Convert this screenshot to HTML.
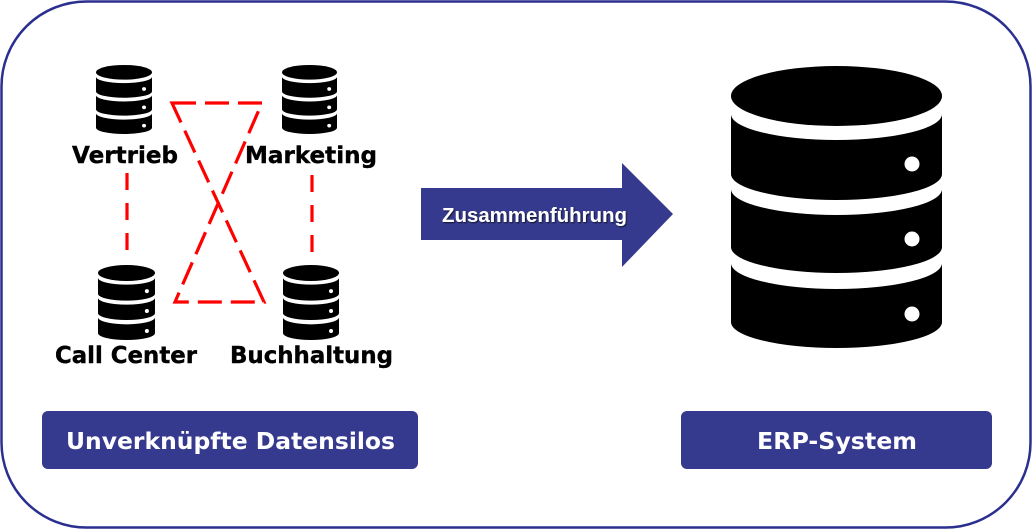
<!DOCTYPE html>
<html><head><meta charset="utf-8"><style>
html,body{margin:0;padding:0;background:#fff;}
svg{display:block;}
.lbl{font-family:"DejaVu Sans","Liberation Sans",sans-serif;font-weight:bold;font-size:23px;fill:#000;stroke:#000;stroke-width:0.4px;}
.btn{font-family:"DejaVu Sans","Liberation Sans",sans-serif;font-weight:bold;font-size:23px;fill:#fff;}
</style></head><body>
<svg width="1033" height="530" viewBox="0 0 1033 530" xmlns="http://www.w3.org/2000/svg">
<defs>
<g id="db">
  <ellipse cx="105.5" cy="30" rx="105.5" ry="30" fill="#000"/>
  <path d="M0 48 A105.5 26 0 0 0 211 48 L211 108 A105.5 26 0 0 1 0 108 Z" fill="#000"/>
  <path d="M0 123 A105.5 26 0 0 0 211 123 L211 181 A105.5 26 0 0 1 0 181 Z" fill="#000"/>
  <path d="M0 197 A105.5 26 0 0 0 211 197 L211 256 A105.5 26 0 0 1 0 256 Z" fill="#000"/>
  <circle cx="181" cy="98" r="7.5" fill="#fff"/>
  <circle cx="181" cy="173" r="7.5" fill="#fff"/>
  <circle cx="181" cy="248" r="7.5" fill="#fff"/>
</g>
<filter id="sh" x="-10%" y="-30%" width="120%" height="160%">
  <feDropShadow dx="1" dy="1" stdDeviation="0.8" flood-color="#000" flood-opacity="0.7"/>
</filter>
</defs>

<rect x="1.5" y="1.5" width="1029" height="526" rx="85" ry="85" fill="#fff" stroke="#2b2f8f" stroke-width="2.5"/>

<!-- small DBs -->
<use href="#db" transform="translate(96,65) scale(0.2654,0.2447)"/>
<use href="#db" transform="translate(282,65) scale(0.2607,0.2447)"/>
<use href="#db" transform="translate(98,265) scale(0.2701,0.266)"/>
<use href="#db" transform="translate(283,265) scale(0.2654,0.266)"/>

<!-- labels -->
<text class="lbl" x="72" y="163" textLength="106" lengthAdjust="spacingAndGlyphs">Vertrieb</text>
<text class="lbl" x="245" y="163" textLength="132" lengthAdjust="spacingAndGlyphs">Marketing</text>
<text class="lbl" x="55" y="363" textLength="142" lengthAdjust="spacingAndGlyphs">Call Center</text>
<text class="lbl" x="230" y="363" textLength="163" lengthAdjust="spacingAndGlyphs">Buchhaltung</text>

<!-- dashed red lines -->
<g stroke="#ff0000" stroke-width="3.2" fill="none">
  <line x1="127" y1="173" x2="127" y2="256" stroke-dasharray="17 13"/>
  <line x1="312" y1="175" x2="312" y2="256" stroke-dasharray="17 13"/>
  <path d="M172 103 L262 103 L175 302 L264 302 Z" stroke-linejoin="miter" stroke-dasharray="24 9"/>
</g>

<!-- arrow -->
<polygon points="421,188 622,188 622,163 673,214 622,267 622,240 421,240" fill="#363a8e"/>
<text x="442" y="222" filter="url(#sh)" style="font-family:'Liberation Sans',sans-serif;font-weight:bold;font-size:20px;fill:#fff;" textLength="185" lengthAdjust="spacingAndGlyphs">Zusammenführung</text>

<!-- big DB -->
<use href="#db" transform="translate(731,66)"/>

<!-- buttons -->
<rect x="42" y="411" width="376" height="58" rx="6" fill="#363a8e"/>
<text class="btn" x="66" y="449" textLength="329" lengthAdjust="spacingAndGlyphs">Unverknüpfte Datensilos</text>
<rect x="681" y="411" width="311" height="58" rx="6" fill="#363a8e"/>
<text class="btn" x="757" y="449" textLength="160" lengthAdjust="spacingAndGlyphs">ERP-System</text>
</svg>
</body></html>
